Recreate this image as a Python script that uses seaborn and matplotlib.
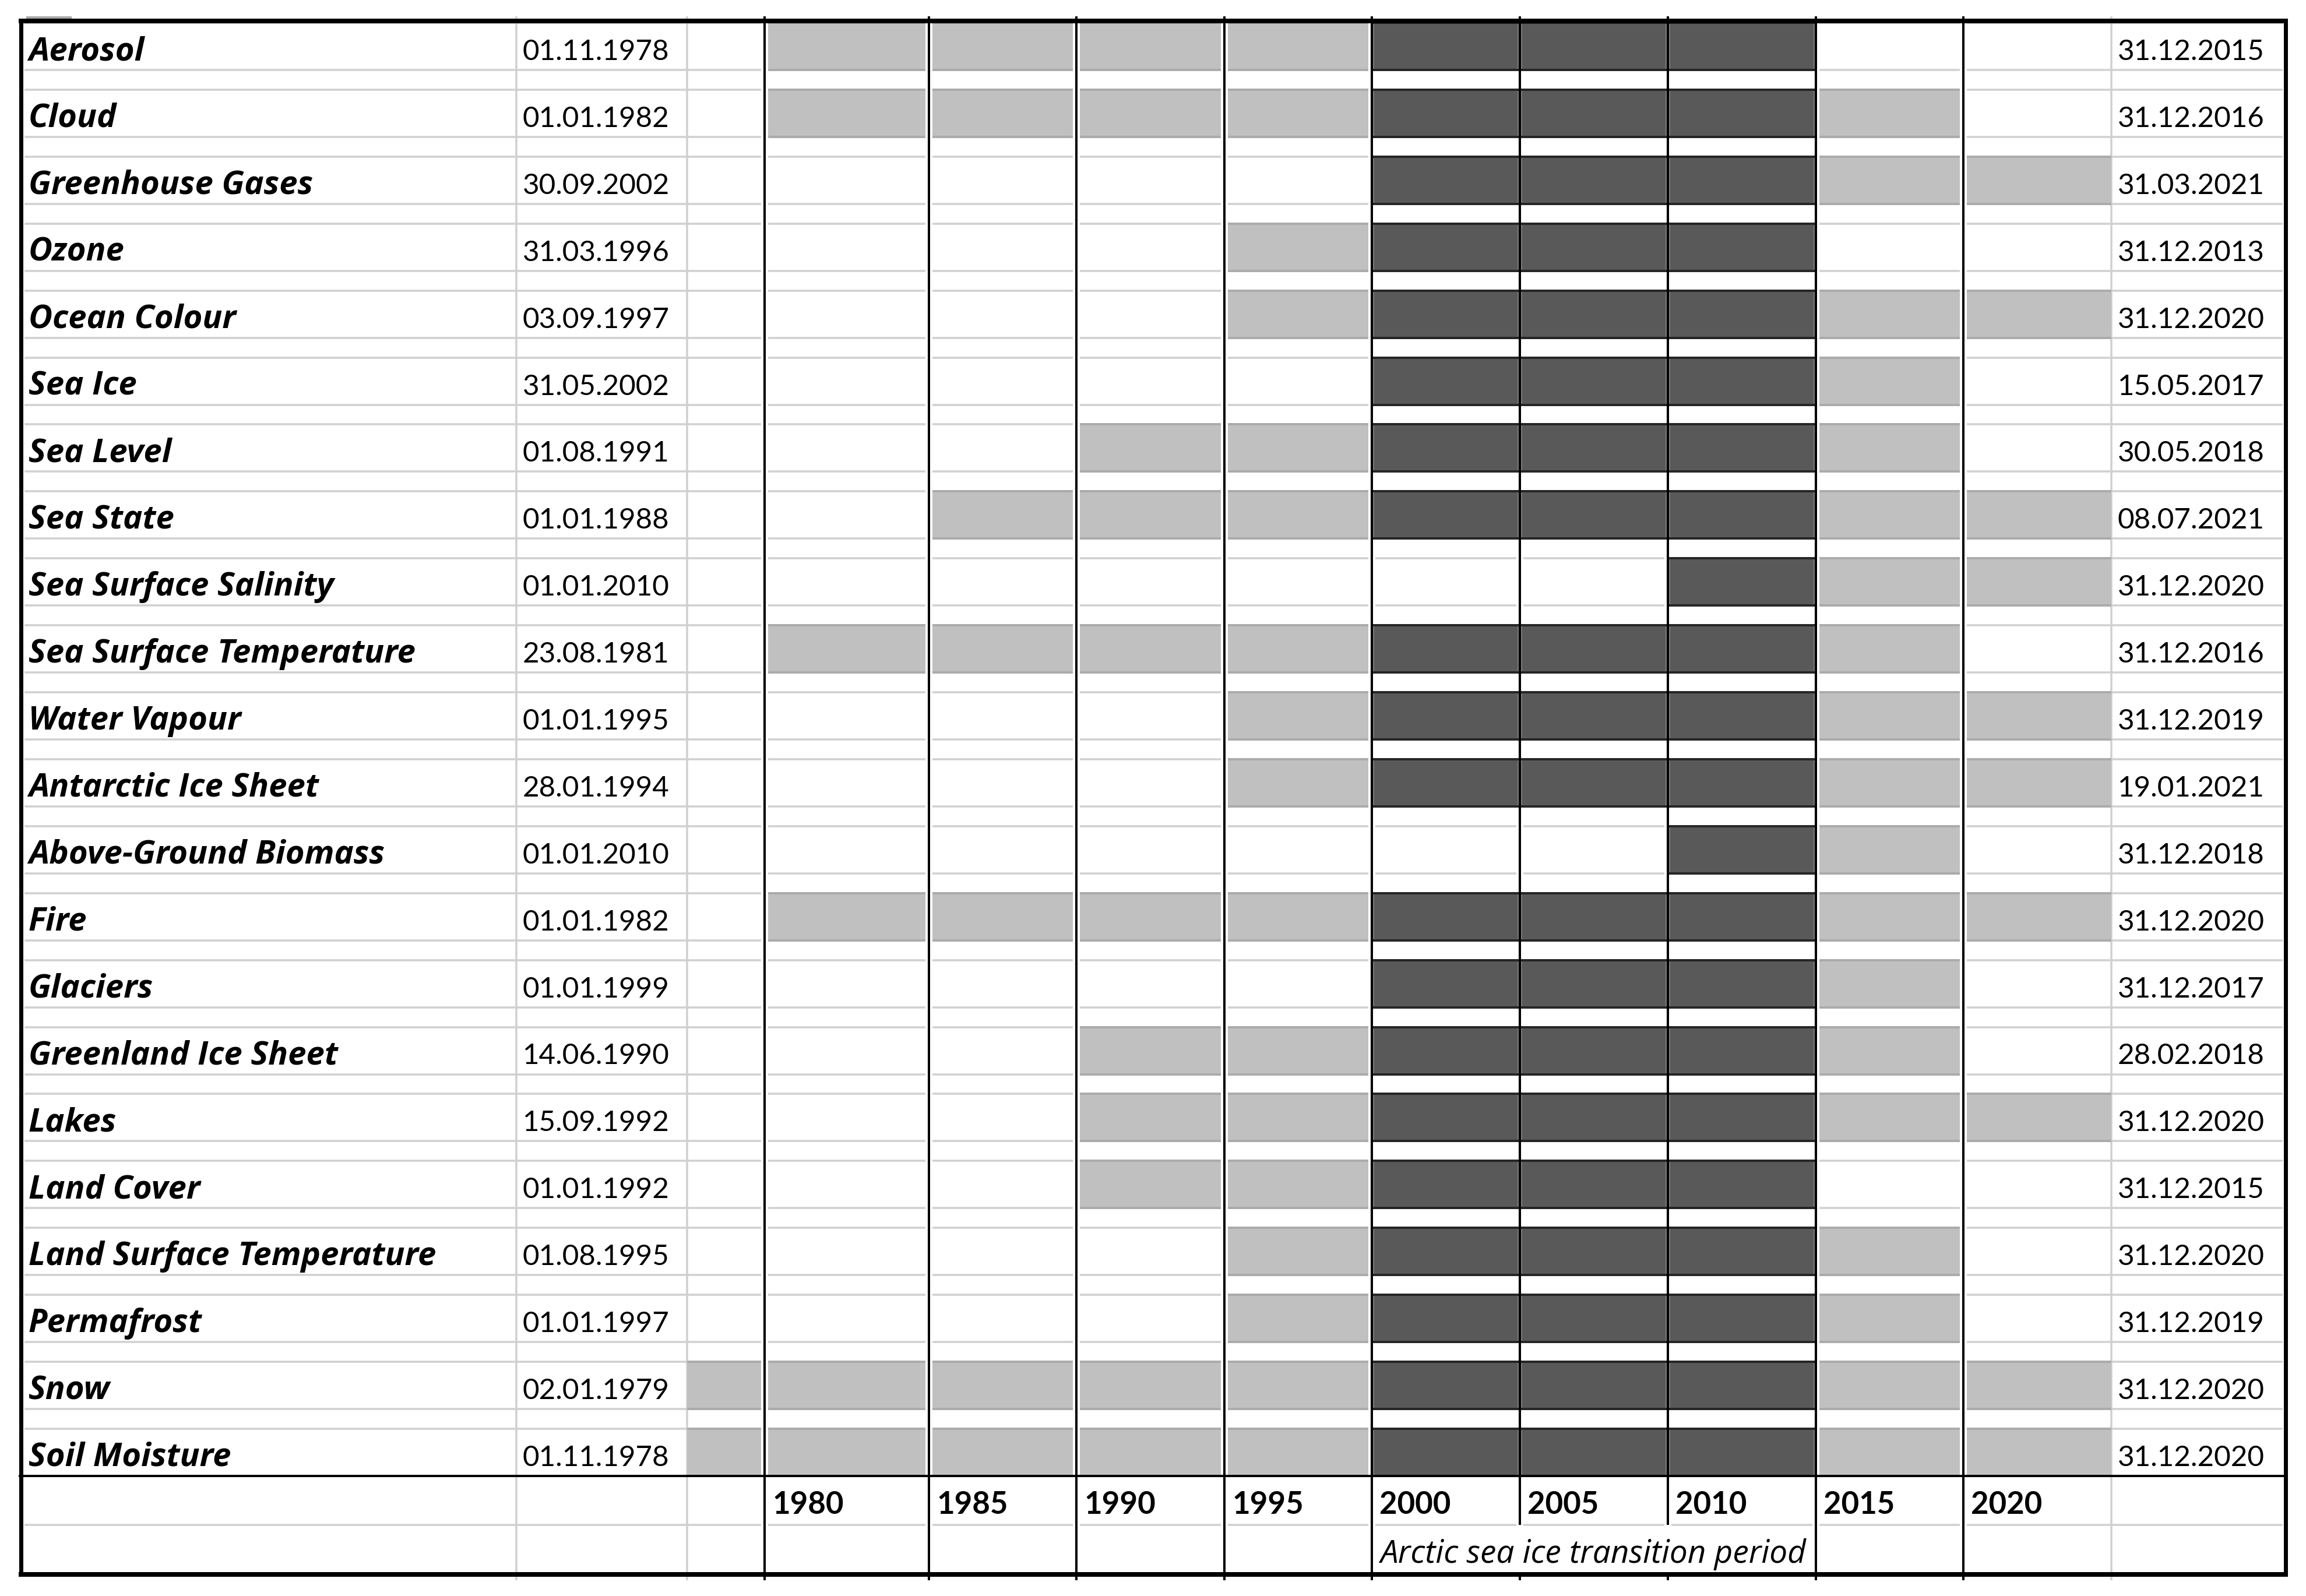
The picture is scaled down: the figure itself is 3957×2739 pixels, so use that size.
import matplotlib
matplotlib.use("Agg")
import matplotlib.pyplot as plt
import seaborn as sns

# ---------------- data ----------------
variables = ["Aerosol", "Cloud", "Greenhouse Gases", "Ozone", "Ocean Colour", "Sea Ice",
             "Sea Level", "Sea State", "Sea Surface Salinity", "Sea Surface Temperature",
             "Water Vapour", "Antarctic Ice Sheet", "Above-Ground Biomass", "Fire", "Glaciers",
             "Greenland Ice Sheet", "Lakes", "Land Cover", "Land Surface Temperature",
             "Permafrost", "Snow", "Soil Moisture"]
start_dates = ["01.11.1978", "01.01.1982", "30.09.2002", "31.03.1996", "03.09.1997", "31.05.2002",
               "01.08.1991", "01.01.1988", "01.01.2010", "23.08.1981", "01.01.1995", "28.01.1994",
               "01.01.2010", "01.01.1982", "01.01.1999", "14.06.1990", "15.09.1992", "01.01.1992",
               "01.08.1995", "01.01.1997", "02.01.1979", "01.11.1978"]
end_dates = ["31.12.2015", "31.12.2016", "31.03.2021", "31.12.2013", "31.12.2020", "15.05.2017",
             "30.05.2018", "08.07.2021", "31.12.2020", "31.12.2016", "31.12.2019", "19.01.2021",
             "31.12.2018", "31.12.2020", "31.12.2017", "28.02.2018", "31.12.2020", "31.12.2015",
             "31.12.2020", "31.12.2019", "31.12.2020", "31.12.2020"]
period_labels = ["", "1980", "1985", "1990", "1995", "2000", "2005", "2010", "2015", "2020"]
# 0 = no data, 1 = data available, 2 = data within Arctic sea ice transition period
coverage = [
    [0, 1, 1, 1, 1, 2, 2, 2, 0, 0],  # Aerosol
    [0, 1, 1, 1, 1, 2, 2, 2, 1, 0],  # Cloud
    [0, 0, 0, 0, 0, 2, 2, 2, 1, 1],  # Greenhouse Gases
    [0, 0, 0, 0, 1, 2, 2, 2, 0, 0],  # Ozone
    [0, 0, 0, 0, 1, 2, 2, 2, 1, 1],  # Ocean Colour
    [0, 0, 0, 0, 0, 2, 2, 2, 1, 0],  # Sea Ice
    [0, 0, 0, 1, 1, 2, 2, 2, 1, 0],  # Sea Level
    [0, 0, 1, 1, 1, 2, 2, 2, 1, 1],  # Sea State
    [0, 0, 0, 0, 0, 0, 0, 2, 1, 1],  # Sea Surface Salinity
    [0, 1, 1, 1, 1, 2, 2, 2, 1, 0],  # Sea Surface Temperature
    [0, 0, 0, 0, 1, 2, 2, 2, 1, 1],  # Water Vapour
    [0, 0, 0, 0, 1, 2, 2, 2, 1, 1],  # Antarctic Ice Sheet
    [0, 0, 0, 0, 0, 0, 0, 2, 1, 0],  # Above-Ground Biomass
    [0, 1, 1, 1, 1, 2, 2, 2, 1, 1],  # Fire
    [0, 0, 0, 0, 0, 2, 2, 2, 1, 0],  # Glaciers
    [0, 0, 0, 1, 1, 2, 2, 2, 1, 0],  # Greenland Ice Sheet
    [0, 0, 0, 1, 1, 2, 2, 2, 1, 1],  # Lakes
    [0, 0, 0, 1, 1, 2, 2, 2, 0, 0],  # Land Cover
    [0, 0, 0, 0, 1, 2, 2, 2, 1, 0],  # Land Surface Temperature
    [0, 0, 0, 0, 1, 2, 2, 2, 1, 0],  # Permafrost
    [1, 1, 1, 1, 1, 2, 2, 2, 1, 1],  # Snow
    [1, 1, 1, 1, 1, 2, 2, 2, 1, 1],  # Soil Moisture
]
transition_label = "Arctic sea ice transition period"

# ---------------- style / layout ----------------
sns.set_theme(style="white")
plt.rcParams["font.family"] = ["Lato", "DejaVu Sans"]
NAME_FONT = ["Open Sans", "Lato", "DejaVu Sans"]

W, H = 3957, 2739
DPI = 100
PT = 72.0 / DPI  # points per pixel

fig = plt.figure(figsize=(W / DPI, H / DPI), dpi=DPI)
fig.patch.set_facecolor("white")
ax = fig.add_axes([0, 0, 1, 1])
ax.set_xlim(0, W)
ax.set_ylim(H, 0)
ax.axis("off")

edges = [36, 886, 1179, 1312, 1594, 1847, 2101, 2354, 2608, 2862, 3116, 3369, 3623, 3922]
black_x = edges[3:12]
row_top0, row_pitch, row_h = 37.0, 114.9, 85.0
table_top, sep_y, mid_y, table_bot = 36, 2533, 2617, 2702

LIGHT, LIGHT_EDGE = "#C0C0C0", "#ABABAB"
DARK, DARK_EDGE = "#595959", "#262626"
GRID = "#D0D0D0"

# horizontal grid segments (between black lines, inset)
segs = [(42, black_x[0] - 6)]
for a, b in zip(black_x[:-1], black_x[1:]):
    segs.append((a + 6, b - 6))
segs.append((black_x[-1] + 6, edges[-1] - 5))

grid_ys = []
for i in range(len(variables)):
    t = row_top0 + row_pitch * i
    grid_ys += [t + 2, t + row_h - 2]
grid_ys.append(mid_y)
for y in grid_ys:
    for a, b in segs:
        ax.hlines(y, a, b, color=GRID, lw=3.5 * PT, zorder=1)

# light vertical grid lines
for x in (edges[1], edges[2], edges[12]):
    ax.vlines(x, 28, 2712, color=GRID, lw=3.5 * PT, zorder=1)

# cells
for i, row in enumerate(coverage):
    t = row_top0 + row_pitch * i
    for k, lev in enumerate(row):
        if lev == 0:
            continue
        x0, x1 = edges[2 + k], edges[3 + k]
        if lev == 1:
            li = 6 if k >= 1 else 0
            ri = 6 if k <= 8 else 0
            fc, ec = LIGHT, LIGHT_EDGE
        else:
            li = ri = 2
            fc, ec = DARK, DARK_EDGE
        left, width = x0 + li, (x1 - ri) - (x0 + li)
        ax.barh(t + row_h / 2, width, left=left, height=row_h, color=fc, lw=0, zorder=2)
        ax.barh(t + 2, width, left=left, height=4, color=ec, lw=0, zorder=2.1)
        ax.barh(t + row_h - 2, width, left=left, height=4, color=ec, lw=0, zorder=2.1)
        if lev == 2:
            ax.barh(t + row_h / 2, 2, left=left, height=row_h - 8, color="#7A7A7A", lw=0, zorder=2.1)
            ax.barh(t + row_h / 2, 2, left=left + width - 2, height=row_h - 8, color="#7A7A7A",
                    lw=0, zorder=2.1)

# black vertical lines
for x in black_x:
    if x in (edges[8], edges[9]):
        ax.vlines(x, 28, mid_y, color="black", lw=4 * PT, zorder=3)
        ax.vlines(x, table_bot, 2712, color="black", lw=4 * PT, zorder=3)
    else:
        ax.vlines(x, 28, 2712, color="black", lw=4 * PT, zorder=3)

# borders
ax.hlines(table_top, 32, edges[-1] + 4, color="black", lw=8 * PT, zorder=4)
ax.hlines(table_bot, 32, edges[-1] + 4, color="black", lw=8 * PT, zorder=4)
ax.hlines(sep_y, 32, edges[-1] + 4, color="black", lw=4 * PT, zorder=4)
ax.vlines(edges[0], table_top, table_bot, color="black", lw=7 * PT, zorder=4)
ax.vlines(edges[-1], table_top, table_bot, color="black", lw=7 * PT, zorder=4)
ax.barh(30, 78, left=45, height=4, color="#A8A8A8", lw=0, zorder=4)

# texts
for i, (v, s, e) in enumerate(zip(variables, start_dates, end_dates)):
    base = row_top0 + row_pitch * i + 66
    ax.text(49, base, v, fontsize=40.5, fontweight="bold", fontstyle="italic", family=NAME_FONT,
            va="baseline", ha="left", color="black", zorder=5)
    ax.text(897, base, s, fontsize=35.5, va="baseline", ha="left", color="black", zorder=5)
    ax.text(3634, base, e, fontsize=35.5, va="baseline", ha="left", color="black", zorder=5)

for k, lab in enumerate(period_labels):
    if lab:
        ax.text(edges[2 + k] + 13, 2598, lab, fontsize=38, fontweight="bold",
                va="baseline", ha="left", color="black", zorder=5)
ax.text(edges[7] + 14, 2682, transition_label, fontsize=39.5, fontstyle="italic", family=NAME_FONT,
        va="baseline", ha="left", color="black", zorder=5)

fig.savefig("out.png", dpi=DPI, facecolor="white")
